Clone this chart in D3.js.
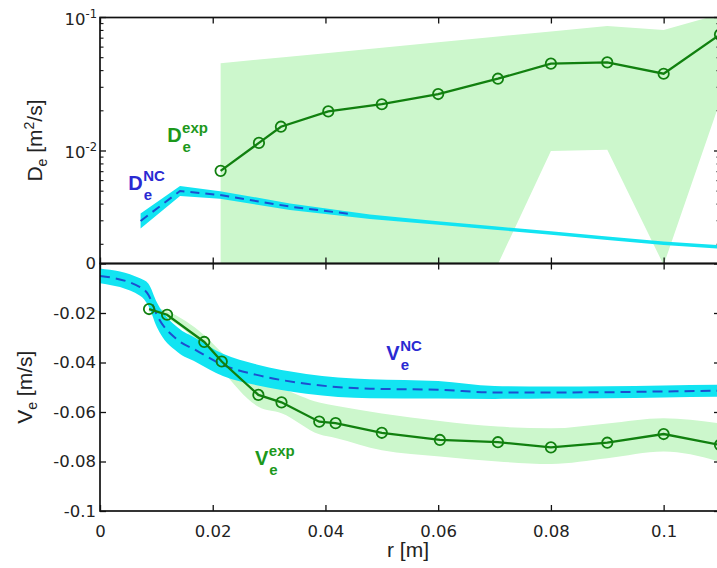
<!DOCTYPE html>
<html>
<head>
<meta charset="utf-8">
<script src="https://cdn.jsdelivr.net/npm/d3@7"></script>
<style>
  html, body { margin: 0; padding: 0; background: #fff; }
  svg { display: block; }
</style>
</head>
<body>
<div id="chart"></div>
<script>
// ---------------- data ----------------
// Top panel: experimental diffusion coefficient D_e^exp [m^2/s]
const rDexp   = [0.0214, 0.0282, 0.0321, 0.0405, 0.050, 0.060, 0.0706, 0.080, 0.090, 0.100, 0.110];
const Dexp    = [0.0071, 0.0115, 0.0152, 0.0198, 0.0224, 0.0267, 0.0348, 0.0451, 0.0461, 0.0379, 0.0745];
const DexpHi  = [0.0454, 0.0484, 0.0502, 0.0542, 0.0594, 0.0652, 0.0720, 0.0787, 0.0865, 0.0806, 0.106];
const DexpLo  = [0.0012, 0.0012, 0.0012, 0.0012, 0.0012, 0.0012, 0.00142, 0.0100, 0.0102, 0.00140, 0.0235];

// Top panel: neoclassical D_e^NC band and dashed curve
const rDnc    = [0.0072, 0.0142, 0.0213, 0.0337, 0.0479, 0.060, 0.070, 0.080, 0.090, 0.100, 0.110];
const DncHi   = [0.00340, 0.00547, 0.00500, 0.00405, 0.00335, 0.00298, 0.00273, 0.00250, 0.00229, 0.00210, 0.00197];
const DncLo   = [0.00263, 0.00461, 0.00438, 0.00362, 0.00310, 0.00280, 0.00257, 0.00236, 0.00215, 0.00198, 0.00185];
const rDncLine = [0.0072, 0.0142, 0.0213, 0.0337, 0.045];
const DncLine  = [0.00299, 0.00502, 0.00468, 0.00383, 0.00335];

// Bottom panel: experimental pinch velocity V_e^exp [m/s]
const rVexp   = [0.0087, 0.0119, 0.0185, 0.0216, 0.0281, 0.0322, 0.0389, 0.0418, 0.050, 0.0603, 0.0706, 0.080, 0.090, 0.100, 0.110];
const Vexp    = [-0.0184, -0.0207, -0.0317, -0.0396, -0.0531, -0.0561, -0.0639, -0.0645, -0.0684, -0.0713, -0.0722, -0.0743, -0.0724, -0.0689, -0.0733];
const VexpHi  = [-0.0172, -0.0193, -0.0290, -0.0360, -0.0471, -0.0504, -0.0562, -0.0575, -0.0606, -0.0636, -0.0659, -0.0666, -0.0646, -0.0625, -0.0646];
const VexpLo  = [-0.0196, -0.0222, -0.0345, -0.0430, -0.0579, -0.0605, -0.0690, -0.0705, -0.0755, -0.0780, -0.0800, -0.0810, -0.0787, -0.0760, -0.0801];

// Bottom panel: neoclassical V_e^NC
const rVnc    = [0, 0.0071, 0.0086, 0.0101, 0.0138, 0.017, 0.0218, 0.0278, 0.0366, 0.0479, 0.060, 0.070, 0.080, 0.090, 0.100, 0.110];
const Vnc     = [-0.0050, -0.0095, -0.0127, -0.0208, -0.0309, -0.0350, -0.0410, -0.0450, -0.0486, -0.0506, -0.0510, -0.0521, -0.0521, -0.0520, -0.0517, -0.0514];
const VncHi   = [-0.0020, -0.0060, -0.0082, -0.0158, -0.0259, -0.0302, -0.0365, -0.0408, -0.0446, -0.0468, -0.0475, -0.0495, -0.0497, -0.0496, -0.0493, -0.0490];
const VncLo   = [-0.0080, -0.0130, -0.0172, -0.0258, -0.0359, -0.0398, -0.0455, -0.0492, -0.0526, -0.0544, -0.0545, -0.0547, -0.0545, -0.0544, -0.0541, -0.0538];

// Ticks
const xTicks      = [0, 0.02, 0.04, 0.06, 0.08, 0.1];
const xTickLabels = ["0", "0.02", "0.04", "0.06", "0.08", "0.1"];
const vTicks      = [0, -0.02, -0.04, -0.06, -0.08, -0.1];
const vTickLabels = ["0", "-0.02", "-0.04", "-0.06", "-0.08", "-0.1"];
const dMajor      = [0.01, 0.1];
const dMajorExp   = ["-2", "-1"];
const dMinor      = [0.002, 0.003, 0.004, 0.005, 0.006, 0.007, 0.008, 0.009,
                     0.02, 0.03, 0.04, 0.05, 0.06, 0.07, 0.08, 0.09];

// ---------------- layout ----------------
const W = 717, H = 568;
const L = 100, R = 720, T1 = 17.5, MID = 263.5, B2 = 511;

const C = {
  green: "#11800f", greenFill: "#ccf7cc", cyan: "#12e4f2", blue: "#1c4fd0",
  lblGreen: "#1c981c", lblBlue: "#2a2ad2", axis: "#111", text: "#222"
};

const x = d3.scaleLinear().domain([0, 0.11]).range([L, R]);
const yD = d3.scaleLog().domain([1.436e-3, 0.1]).range([MID, T1]);
const yV = d3.scaleLinear().domain([-0.1, 0]).range([B2, MID]);

const svg = d3.select("#chart").append("svg").attr("width", W).attr("height", H);
const defs = svg.append("defs");
defs.append("clipPath").attr("id", "clipTop").append("rect")
  .attr("x", L).attr("y", T1).attr("width", R - L).attr("height", MID - T1);
defs.append("clipPath").attr("id", "clipBot").append("rect")
  .attr("x", L).attr("y", MID).attr("width", R - L).attr("height", B2 - MID);

// ---------------- top panel ----------------
const gTop = svg.append("g").attr("clip-path", "url(#clipTop)");
const dexpRows = rDexp.map((r, i) => ({ r, v: Dexp[i], hi: DexpHi[i], lo: DexpLo[i] }));
const dncRows = rDnc.map((r, i) => ({ r, hi: DncHi[i], lo: DncLo[i] }));

gTop.append("path").datum(dexpRows)
  .attr("fill", C.greenFill)
  .attr("d", d3.area().x(d => x(d.r)).y0(d => yD(d.lo)).y1(d => yD(d.hi)));
gTop.append("path").datum(dncRows)
  .attr("fill", C.cyan)
  .attr("d", d3.area().x(d => x(d.r)).y0(d => yD(d.lo)).y1(d => yD(d.hi)));
gTop.append("path").datum(rDncLine.map((r, i) => ({ r, v: DncLine[i] })))
  .attr("fill", "none").attr("stroke", C.blue).attr("stroke-width", 2)
  .attr("stroke-dasharray", "9,6")
  .attr("d", d3.line().x(d => x(d.r)).y(d => yD(d.v)));
gTop.append("path").datum(dexpRows)
  .attr("fill", "none").attr("stroke", C.green).attr("stroke-width", 2.3)
  .attr("d", d3.line().x(d => x(d.r)).y(d => yD(d.v)));
gTop.selectAll("circle.m").data(dexpRows).join("circle")
  .attr("cx", d => x(d.r)).attr("cy", d => yD(d.v)).attr("r", 5.2)
  .attr("fill", "none").attr("stroke", C.green).attr("stroke-width", 1.8);

// ---------------- bottom panel ----------------
const gBot = svg.append("g").attr("clip-path", "url(#clipBot)");
const vexpRows = rVexp.map((r, i) => ({ r, v: Vexp[i], hi: VexpHi[i], lo: VexpLo[i] }));
const vncRows = rVnc.map((r, i) => ({ r, v: Vnc[i], hi: VncHi[i], lo: VncLo[i] }));

gBot.append("path").datum(vexpRows)
  .attr("fill", C.greenFill)
  .attr("d", d3.area().curve(d3.curveMonotoneX).x(d => x(d.r)).y0(d => yV(d.lo)).y1(d => yV(d.hi)));
gBot.append("path").datum(vncRows)
  .attr("fill", C.cyan)
  .attr("d", d3.area().curve(d3.curveMonotoneX).x(d => x(d.r)).y0(d => yV(d.lo)).y1(d => yV(d.hi)));
gBot.append("path").datum(vncRows)
  .attr("fill", "none").attr("stroke", C.blue).attr("stroke-width", 2)
  .attr("stroke-dasharray", "10,6")
  .attr("d", d3.line().curve(d3.curveMonotoneX).x(d => x(d.r)).y(d => yV(d.v)));
gBot.append("path").datum(vexpRows)
  .attr("fill", "none").attr("stroke", C.green).attr("stroke-width", 2.3)
  .attr("d", d3.line().x(d => x(d.r)).y(d => yV(d.v)));
gBot.selectAll("circle.m").data(vexpRows).join("circle")
  .attr("cx", d => x(d.r)).attr("cy", d => yV(d.v)).attr("r", 5.2)
  .attr("fill", "none").attr("stroke", C.green).attr("stroke-width", 1.8);

// ---------------- axes ----------------
const tickFont = "'DejaVu Sans', sans-serif";
function styleAxis(g, showText) {
  g.select(".domain").remove();
  g.selectAll(".tick line").attr("stroke", C.axis).attr("stroke-width", 1.3);
  g.selectAll(".tick text").attr("fill", C.text).style("font-family", tickFont)
    .style("font-size", "16.5px").style("display", showText ? null : "none");
}
// x ticks, both panels, top & bottom edges
[[T1, d3.axisTop, false], [MID, d3.axisBottom, false], [MID, d3.axisTop, false], [B2, d3.axisBottom, true]]
  .forEach(([yy, ax, show]) => {
    const g = svg.append("g").attr("transform", `translate(0,${yy})`)
      .call(ax(x).tickValues(xTicks).tickFormat((d, i) => xTickLabels[i])
        .tickSize(-6).tickPadding(14));
    styleAxis(g, show);
  });

// bottom panel y axis (left with labels, right ticks only)
const gVl = svg.append("g").attr("transform", `translate(${L},0)`)
  .call(d3.axisLeft(yV).tickValues(vTicks).tickFormat((d, i) => vTickLabels[i]).tickSize(-6).tickPadding(4));
styleAxis(gVl, true);
const gVr = svg.append("g").attr("transform", `translate(${R},0)`)
  .call(d3.axisRight(yV).tickValues(vTicks).tickSize(-6));
styleAxis(gVr, false);

// top panel y axis: log ticks drawn through the scale
[[L, 1], [R, -1]].forEach(([xx, s]) => {
  const g = svg.append("g");
  g.selectAll("line.maj").data(dMajor).join("line")
    .attr("x1", xx).attr("x2", xx + s * 6).attr("y1", d => yD(d)).attr("y2", d => yD(d))
    .attr("stroke", C.axis).attr("stroke-width", 1.3);
  g.selectAll("line.min").data(dMinor).join("line")
    .attr("x1", xx).attr("x2", xx + s * 3.5).attr("y1", d => yD(d)).attr("y2", d => yD(d))
    .attr("stroke", C.axis).attr("stroke-width", 1.1);
});
dMajor.forEach((v, i) => {
  const t = svg.append("text").attr("x", L - 3).attr("y", yD(v) + 7.3)
    .attr("text-anchor", "end").attr("fill", C.text)
    .style("font-family", tickFont).style("font-size", "16.5px");
  t.append("tspan").text("10");
  t.append("tspan").attr("dy", -7).style("font-size", "11.5px").text(dMajorExp[i]);
});

// frames
svg.append("rect").attr("x", L).attr("y", T1).attr("width", R - L).attr("height", MID - T1)
  .attr("fill", "none").attr("stroke", C.axis).attr("stroke-width", 1.7);
svg.append("rect").attr("x", L).attr("y", MID).attr("width", R - L).attr("height", B2 - MID)
  .attr("fill", "none").attr("stroke", C.axis).attr("stroke-width", 1.7);

// ---------------- axis titles ----------------
const titleFont = "'Liberation Sans', Arial, sans-serif";
function yTitle(cx, cy, main, sub, rest) {
  const t = svg.append("text").attr("transform", `translate(${cx},${cy}) rotate(-90)`)
    .attr("text-anchor", "middle").attr("fill", C.text)
    .style("font-family", titleFont).style("font-size", "21px");
  t.append("tspan").text(main);
  t.append("tspan").attr("dy", 5).style("font-size", "14px").text(sub);
  rest.forEach(p => {
    const ts = t.append("tspan").text(p.t);
    if (p.sup) ts.attr("dy", p.dy).style("font-size", "14px");
    else if (p.dy) ts.attr("dy", p.dy);
  });
}
yTitle(41.5, (T1 + MID) / 2, "D", "e", [
  { t: " [m", dy: -5 }, { t: "2", sup: true, dy: -8 }, { t: "/s]", dy: 8 }
]);
yTitle(32, (MID + B2) / 2, "V", "e", [{ t: " [m/s]", dy: -5 }]);
svg.append("text").attr("x", (L + R) / 2 - 2).attr("y", 557).attr("text-anchor", "middle")
  .attr("fill", C.text).style("font-family", titleFont).style("font-size", "21px").text("r [m]");

// ---------------- in-plot labels ----------------
const annFont = "'Liberation Sans', Arial, sans-serif";
const annotations = [
  { main: "D", sup: "exp", sub: "e", r: 0.01191, y: yD(0.01168), color: C.lblGreen },
  { main: "D", sup: "NC",  sub: "e", r: 0.00500, y: yD(0.00510), color: C.lblBlue },
  { main: "V", sup: "NC",  sub: "e", r: 0.0508,  y: yV(-0.0390), color: C.lblBlue },
  { main: "V", sup: "exp", sub: "e", r: 0.0275,  y: yV(-0.0814), color: C.lblGreen }
];
annotations.forEach(a => {
  const g = svg.append("g").attr("fill", a.color)
    .style("font-family", annFont).style("font-weight", "bold");
  const m = g.append("text").attr("x", x(a.r)).attr("y", a.y).style("font-size", "20px").text(a.main);
  const w = m.node().getComputedTextLength();
  g.append("text").attr("x", x(a.r) + w + 0.5).attr("y", a.y - 9).style("font-size", "15px").text(a.sup);
  g.append("text").attr("x", x(a.r) + w + 1).attr("y", a.y + 10).style("font-size", "15px").text(a.sub);
});
</script>
</body>
</html>
